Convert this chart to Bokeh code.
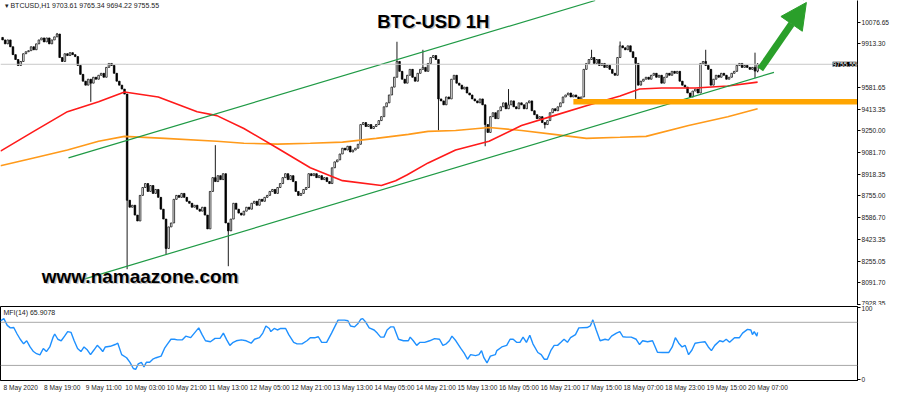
from bokeh.plotting import figure
from bokeh.layouts import column
from bokeh.models import Range1d, FixedTicker, Label, Arrow, NormalHead, Span
from bokeh.embed import file_html
from bokeh.resources import INLINE

# ---------------- data ----------------
x_labels = ["8 May 2020", "8 May 19:00", "9 May 11:00", "10 May 03:00", "10 May 21:00",
            "11 May 13:00", "12 May 05:00", "12 May 21:00", "13 May 13:00", "14 May 05:00",
            "14 May 21:00", "15 May 13:00", "16 May 05:00", "16 May 21:00", "17 May 15:00",
            "18 May 07:00", "18 May 23:00", "19 May 15:00", "20 May 07:00"]
x_label_bars = [0, 16, 32, 48, 64, 80, 96, 112, 128, 144, 160, 176, 192, 208, 224, 240, 256, 272, 288]

price_ticks = [10076.65, 9913.30, 9581.65, 9413.35, 9250.00, 9081.70, 8918.35,
               8755.00, 8586.70, 8423.35, 8255.05, 8091.70, 7928.35]
last_price = 9755.55

first_open = 9960
closes = [
    9941, 9911, 9941, 9889, 9829, 9792, 9747, 9777, 9836, 9851,
    9859, 9889, 9866, 9911, 9941, 9956, 9926, 9956, 9911, 9941,
    9964, 9986, 9807, 9777, 9836, 9822, 9844, 9829, 9814, 9747,
    9679, 9627, 9597, 9642, 9612, 9657, 9642, 9672, 9687, 9657,
    9732, 9762, 9747, 9687, 9627, 9597, 9567, 9529, 8721, 8668,
    8683, 8608, 8563, 8758, 8818, 8848, 8788, 8833, 8773, 8803,
    8743, 8653, 8578, 8354, 8518, 8548, 8728, 8758, 8743, 8773,
    8743, 8713, 8698, 8668, 8683, 8653, 8638, 8668, 8608, 8503,
    8788, 8893, 8863, 8908, 8878, 8923, 8548, 8488, 8578, 8698,
    8653, 8623, 8608, 8638, 8668, 8653, 8698, 8713, 8683, 8728,
    8713, 8743, 8758, 8788, 8803, 8773, 8818, 8848, 8893, 8923,
    8878, 8908, 8863, 8788, 8758, 8773, 8803, 8818, 8923, 8908,
    8923, 8893, 8908, 8878, 8893, 8863, 8848, 8968, 9013, 9028,
    9073, 9117, 9103, 9132, 9088, 9103, 9117, 9147, 9297, 9312,
    9282, 9297, 9267, 9282, 9297, 9327, 9357, 9432, 9462, 9522,
    9582, 9657, 9777, 9702, 9642, 9612, 9672, 9717, 9657, 9627,
    9687, 9717, 9732, 9702, 9762, 9807, 9822, 9792, 9492, 9477,
    9447, 9507, 9492, 9642, 9672, 9612, 9597, 9567, 9582, 9537,
    9522, 9492, 9477, 9462, 9492, 9447, 9297, 9237, 9357, 9387,
    9342, 9402, 9432, 9462, 9417, 9447, 9477, 9432, 9417, 9462,
    9447, 9417, 9462, 9477, 9402, 9372, 9342, 9357, 9312, 9297,
    9327, 9387, 9417, 9402, 9432, 9462, 9507, 9522, 9537, 9507,
    9522, 9507, 9492, 9507, 9717, 9762, 9792, 9807, 9762, 9792,
    9747, 9762, 9732, 9747, 9717, 9687, 9672, 9807, 9896, 9881,
    9866, 9896, 9851, 9807, 9762, 9597, 9627, 9642, 9657, 9642,
    9672, 9687, 9657, 9672, 9612, 9657, 9687, 9672, 9702, 9687,
    9702, 9627, 9597, 9582, 9537, 9507, 9552, 9567, 9537, 9762,
    9777, 9747, 9717, 9597, 9642, 9672, 9657, 9687, 9672, 9642,
    9657, 9687, 9702, 9747, 9762, 9732, 9747, 9732, 9717, 9732,
    9703.61, 9755.55,
]
wick_high = {21: 9994, 82: 9140, 152: 9927, 162: 9866, 195: 9567, 227: 9866,
             238: 9929, 271: 9866, 290: 9844, 291: 9765.34}
wick_low = {34: 9470, 48: 8196, 63: 8309, 87: 8219, 168: 9253, 186: 9132,
            209: 9267, 244: 9492, 290: 9650, 291: 9694.22}

red_ma_bars = [-0.8, 12, 25, 37, 47, 60, 75, 82.6, 93, 106, 118.6, 131, 146, 151.5,
               156, 164, 174.6, 187.5, 200, 212.5, 225, 238, 245.5, 254, 267, 279.5, 291]
red_ma = [9095, 9245, 9395, 9470, 9545, 9507, 9395, 9365, 9267, 9117, 8968, 8870, 8833, 8870,
          8915, 9005, 9103, 9170, 9290, 9365, 9440, 9515, 9567, 9575, 9575, 9590, 9620]

orange_ma_bars = [-0.8, 12, 25, 37, 47, 62.5, 82.6, 93, 106, 118.6, 131, 144, 156.4, 164,
                  174.6, 187.5, 200, 212.5, 225, 238, 248, 264.4, 279.5, 291]
orange_ma = [8983, 9043, 9103, 9170, 9207, 9192, 9170, 9155, 9148, 9155, 9163, 9192, 9222, 9245,
             9252, 9275, 9252, 9222, 9192, 9200, 9207, 9290, 9357, 9417]

channel_upper_bars = [25.4, 228.4]
channel_upper = [9043, 10241]
channel_lower_bars = [31.4, 297.3]
channel_lower = [8121, 9694]
support_bars = [220, 329.5]
support_level = 9470
arrow_bars = [292, 309.8]
arrow_prices = [9717, 10226]

mfi_bars = [
    -0.8, 0.5, 1.8, 3.0, 4.3, 5.6, 6.8, 8.1, 9.3, 10.6,
    11.9, 13.1, 14.4, 15.7, 16.9, 18.2, 19.4, 20.1, 21.3, 22.6,
    23.9, 25.1, 26.4, 27.6, 28.9, 30.2, 31.4, 32.7, 33.9, 35.2,
    36.5, 37.7, 38.6, 39.6, 41.5, 43.4, 44.4, 45.9, 47.8, 49.1,
    50.4, 51.3, 52.3, 53.5, 54.5, 55.4, 56.7, 57.9, 59.2, 61.1,
    62.4, 63.6, 64.9, 66.2, 67.4, 69.3, 70.6, 72.5, 74.4, 75.6,
    76.9, 78.2, 80.1, 81.9, 83.8, 85.1, 86.4, 87.6, 88.9, 90.1,
    92.0, 93.9, 95.8, 97.1, 99.0, 100.3, 101.5, 102.8, 103.4, 104.7,
    105.9, 107.2, 109.1, 110.3, 112.2, 113.5, 115.4, 117.3, 118.6, 120.5,
    121.7, 123.0, 124.9, 126.8, 128.0, 129.3, 131.8, 133.1, 134.1, 135.6,
    136.9, 138.1, 138.8, 140.0, 141.3, 143.2, 144.4, 145.7, 147.0, 148.2,
    149.5, 150.8, 152.6, 154.5, 156.4, 157.1, 158.3, 159.6, 160.9, 162.7,
    164.6, 166.5, 168.4,
    169.7, 171.0, 172.2, 173.2, 174.7, 176.6, 177.9, 179.2, 180.4, 182.3,
    183.6, 184.6, 185.5, 186.7, 188.0, 189.9, 190.5, 192.4, 194.3, 195.6,
    196.8, 198.1, 199.4, 200.6, 201.9, 203.2, 204.4, 206.3, 207.6, 208.8,
    209.9, 211.4, 212.6, 213.9, 215.2, 216.4, 217.7, 218.9, 220.8, 222.1,
    225.3, 226.5, 227.5, 228.8, 230.3, 232.2, 233.5, 234.7, 236.6, 237.9,
    239.1, 240.4, 242.3, 244.2, 245.5, 246.7, 248.6, 250.5, 252.4, 254.3,
    256.8, 258.1, 259.3, 260.6, 261.9, 263.1, 264.4, 265.7, 266.9, 268.8,
    270.7, 272.0, 273.2, 274.5, 276.4, 277.7, 278.9, 280.2, 282.1, 284.0,
    285.2, 287.1, 288.4, 289.0, 289.7, 290.7, 291.0,
]
mfi_values = [
    82.1, 85.1, 75.7, 72.3, 72.7, 63.7, 56.4, 50.0, 54.3, 45.7,
    39.3, 36.3, 34.6, 43.6, 39.3, 45.7, 58.6, 63.7, 56.4, 54.3,
    60.7, 67.1, 65.9, 54.3, 43.6, 39.3, 45.7, 41.4, 35.0, 41.4,
    47.9, 43.6, 39.3, 45.7, 46.6, 49.1, 50.9, 35.0, 30.7, 24.3,
    15.7, 14.4, 22.1, 24.3, 17.9, 24.3, 24.3, 28.6, 30.7, 32.9,
    43.6, 50.0, 56.4, 56.4, 55.6, 55.6, 60.7, 58.6, 67.1, 72.3,
    62.9, 54.3, 53.0, 57.7, 57.7, 65.0, 55.6, 47.9, 52.1, 54.3,
    55.6, 54.3, 50.9, 56.4, 58.6, 65.0, 74.9, 71.4, 67.1, 71.4,
    69.3, 71.4, 71.4, 62.9, 52.1, 50.0, 50.0, 54.3, 58.6, 58.6,
    59.9, 52.1, 52.1, 65.0, 73.6, 83.0, 83.0, 82.1, 74.9, 73.6,
    77.9, 84.3, 85.1, 80.0, 72.3, 69.3, 65.0, 59.4, 59.4, 69.3,
    73.6, 73.6, 56.4, 54.3, 54.3, 59.4, 54.3, 47.9, 52.1, 52.1,
    54.3, 57.3, 56.4,
    47.9, 50.0, 54.3, 60.7, 54.3, 43.6, 37.1, 28.6, 35.0, 33.7,
    35.0, 40.6, 30.7, 23.4, 32.9, 35.0, 40.6, 45.7, 47.9, 56.4,
    56.4, 52.1, 52.1, 59.4, 52.1, 62.0, 50.0, 38.0, 35.0, 28.6,
    28.6, 41.4, 47.9, 47.9, 52.1, 56.4, 52.1, 58.6, 62.9, 72.3,
    72.7, 74.9, 83.4, 69.3, 54.3, 56.4, 55.1, 60.7, 65.0, 67.1,
    59.9, 59.4, 59.4, 56.4, 49.1, 54.3, 53.0, 54.3, 38.4, 38.0,
    38.0, 45.7, 58.6, 50.9, 45.7, 47.9, 35.0, 41.4, 50.9, 52.1,
    53.0, 45.7, 40.6, 47.9, 54.3, 53.0, 56.4, 52.1, 58.6, 58.6,
    65.0, 70.1, 69.3, 62.9, 67.1, 60.7, 65.9,
]
mfi_levels = [80, 20]

# ---------------- styling ----------------
FONT = "Liberation Sans"
W = 892
X_START, X_END = -0.8, 329.5
RB = 30
LABEL_SHIFT = 7.0   # bars: MT4 puts the time label to the right of its tick


def style_right_axis(ax, size):
    ax.major_label_text_font = FONT
    ax.major_label_text_font_size = size
    ax.major_label_text_color = "#222222"
    ax.axis_line_color = "black"
    ax.major_tick_line_color = "black"
    ax.major_tick_out = 3
    ax.major_tick_in = 0
    ax.minor_tick_line_color = None
    ax.major_label_standoff = 1


# ---------------- main price panel ----------------
p = figure(width=W, height=305, x_range=Range1d(X_START, X_END), y_range=Range1d(7920, 10241),
           output_backend="svg", toolbar_location=None, tools="",
           y_axis_location="right", x_axis_location=None,
           min_border_left=0, min_border_top=0, min_border_bottom=0, min_border_right=RB)
p.grid.visible = False
p.outline_line_color = None
p.background_fill_color = "white"
p.border_fill_color = "white"

p.yaxis.ticker = FixedTicker(ticks=price_ticks)
p.yaxis.major_label_overrides = {t: f"{t:.2f}" for t in price_ticks}
style_right_axis(p.yaxis[0], "6.6px")

p.add_layout(Span(location=last_price, dimension="width", line_color="#c8c8c8", line_width=1))

# candles
n = len(closes)
bars = list(range(n))
opens = [first_open] + closes[:-1]
highs = [wick_high.get(i, max(opens[i], closes[i])) for i in bars]
lows = [wick_low.get(i, min(opens[i], closes[i])) for i in bars]
p.segment(x0=bars, y0=lows, x1=bars, y1=highs, line_color="black", line_width=0.9)
up = [i for i in bars if closes[i] >= opens[i]]
dn = [i for i in bars if closes[i] < opens[i]]
p.vbar(x=up, bottom=[opens[i] for i in up], top=[max(closes[i], opens[i] + 4) for i in up],
       width=0.62, fill_color="white", line_color="black", line_width=0.7)
p.vbar(x=dn, bottom=[closes[i] for i in dn], top=[opens[i] for i in dn],
       width=0.62, fill_color="black", line_color="black", line_width=0.7)

# moving averages & drawn objects
p.line(orange_ma_bars, orange_ma, line_color="#FF9A1A", line_width=1.6)
p.line(red_ma_bars, red_ma, line_color="#FF1A1A", line_width=1.6)
p.line(channel_upper_bars, channel_upper, line_color="#1F9A45", line_width=1.2)
p.line(channel_lower_bars, channel_lower, line_color="#1F9A45", line_width=1.2)
p.line(support_bars, [support_level] * 2, line_color="#FFA500", line_width=5.5)

GREEN = "#2A9F2A"
p.add_layout(Arrow(end=NormalHead(size=26, fill_color=GREEN, line_color=GREEN),
                   x_start=arrow_bars[0], y_start=arrow_prices[0],
                   x_end=arrow_bars[1], y_end=arrow_prices[1],
                   line_color=GREEN, line_width=7))

# texts
p.add_layout(Label(x=X_START, y=10204, x_offset=4, text="\u25BE BTCUSD,H1  9703.61 9765.34 9694.22 9755.55",
                   text_font=FONT, text_font_size="7px", text_color="#222222", text_baseline="middle"))
for dx, col, alpha in [(1.5, "#9a9a9a", 0.6), (0, "black", 1.0)]:
    p.add_layout(Label(x=166, y=10084, x_offset=dx, y_offset=-dx, text="BTC-USD 1H",
                       text_font=FONT, text_font_size="18.5px", text_font_style="bold",
                       text_color=col, text_alpha=alpha, text_align="center", text_baseline="middle"))
    p.add_layout(Label(x=53, y=8144, x_offset=dx, y_offset=-dx, text="www.namaazone.com",
                       text_font=FONT, text_font_size="19px", text_font_style="bold",
                       text_color=col, text_alpha=alpha, text_align="center", text_baseline="middle"))
# current-price tag against the price axis
p.add_layout(Label(x=X_END, y=last_price, x_offset=-1, text=f"{last_price:.2f}",
                   text_font=FONT, text_font_size="6.6px", text_color="white",
                   background_fill_color="black", text_baseline="middle", text_align="right"))

# ---------------- MFI panel ----------------
q = figure(width=W, height=88, x_range=p.x_range, y_range=Range1d(-1, 102),
           output_backend="svg", toolbar_location=None, tools="",
           y_axis_location="right",
           min_border_left=0, min_border_top=1, min_border_right=RB, min_border_bottom=0)
q.grid.visible = False
q.outline_line_color = "black"
q.outline_line_width = 1
for lv in mfi_levels:
    q.add_layout(Span(location=lv, dimension="width", line_color="#a8a8a8", line_width=1))
q.line(mfi_bars, mfi_values, line_color="#1E90FF", line_width=1.4)
q.add_layout(Label(x=X_START, y=93, x_offset=3, text="MFI(14) 65.9078", text_font=FONT,
                   text_font_size="7px", text_color="#222222", text_baseline="middle"))

q.yaxis.ticker = FixedTicker(ticks=[0, 100])
q.yaxis.major_label_overrides = {0: "0", 100: "100"}
style_right_axis(q.yaxis[0], "6.6px")

# time labels sit to the right of their bar, as in MT4
label_pos = [b + LABEL_SHIFT for b in x_label_bars]
q.xaxis.ticker = FixedTicker(ticks=label_pos)
q.xaxis.major_label_overrides = {lp: t for lp, t in zip(label_pos, x_labels)}
q.xaxis.major_tick_line_color = None
q.xaxis.major_tick_out = 0
q.xaxis.major_tick_in = 0
q.xaxis.minor_tick_line_color = None
q.xaxis.major_label_text_font = FONT
q.xaxis.major_label_text_font_size = "6.6px"
q.xaxis.major_label_text_color = "#222222"
q.xaxis.major_label_standoff = 3
q.xaxis.axis_line_color = "black"

layout = column(p, q, spacing=0)
open("out.html", "w").write(file_html(layout, INLINE))
